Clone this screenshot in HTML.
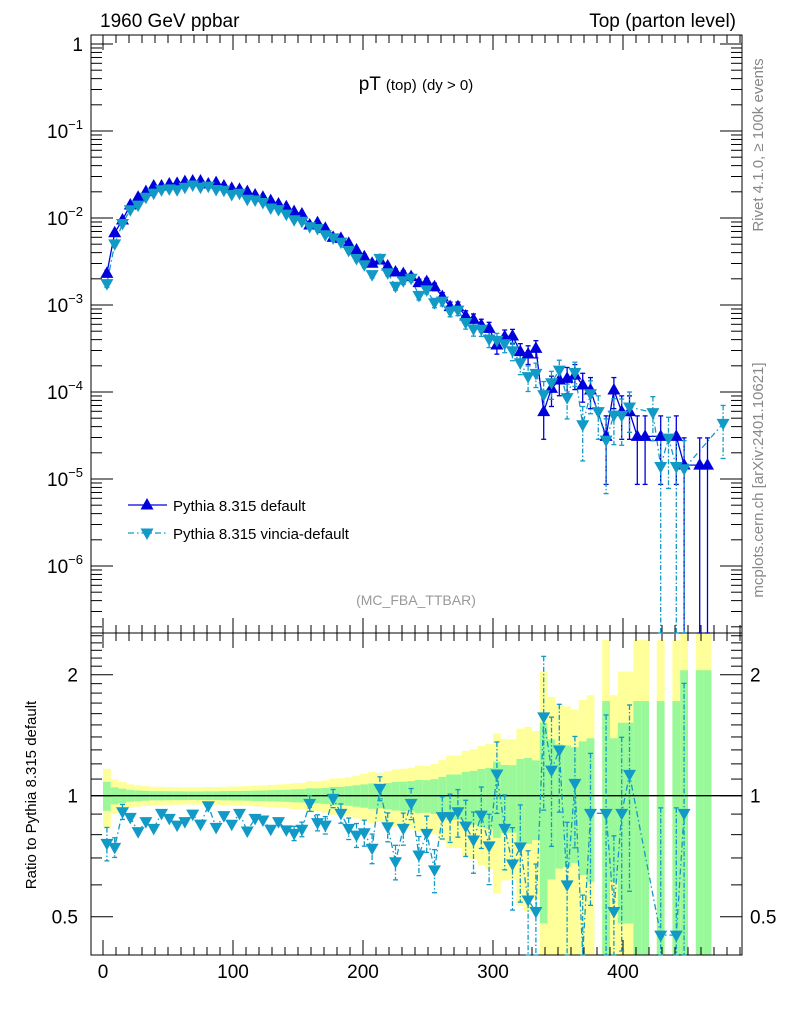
<!DOCTYPE html>
<html><head><meta charset="utf-8"><style>
html,body{margin:0;padding:0;background:#fff;}
svg{display:block;font-family:"Liberation Sans",Arial,sans-serif;}
</style></head><body>
<svg id="chart" width="786" height="1024" viewBox="0 0 786 1024" xmlns="http://www.w3.org/2000/svg">
<g id="bands"></g>
<g id="axes"></g>
<g id="series"></g>
<text x="100" y="27" font-size="19">1960 GeV ppbar</text>
<text x="736" y="27" font-size="19" text-anchor="end">Top (parton level)</text>
<text x="416" y="90" font-size="19" text-anchor="middle">pT <tspan font-size="15">(top)</tspan> <tspan font-size="15">(dy &gt; 0)</tspan></text>
<text x="416" y="605" font-size="14" fill="#999" text-anchor="middle">(MC_FBA_TTBAR)</text>
<text transform="translate(763,145) rotate(-90)" font-size="15" fill="#888" text-anchor="middle">Rivet 4.1.0, ≥ 100k events</text>
<text transform="translate(763,480) rotate(-90)" font-size="15" fill="#888" text-anchor="middle">mcplots.cern.ch [arXiv:2401.10621]</text>
<text transform="translate(36,795) rotate(-90)" font-size="15" text-anchor="middle">Ratio to Pythia 8.315 default</text>
<g>
  <g>
    <line x1="128" y1="505" x2="167" y2="505" stroke="#0000dd" stroke-width="1.3"/>
    <polygon points="147,498 140.5,509.5 153.5,509.5" fill="#0000dd"/>
    <text x="173" y="511" font-size="15">Pythia 8.315 default</text>
  </g>
  <g>
    <line x1="128" y1="533" x2="167" y2="533" stroke="#119ac6" stroke-width="1.3" stroke-dasharray="6,3,1.5,3"/>
    <polygon points="147,540 140.5,528.5 153.5,528.5" fill="#119ac6"/>
    <text x="173" y="539" font-size="15">Pythia 8.315 vincia-default</text>
  </g>
</g>
</svg>
<script>
// ---- data (bin width 6 GeV, centers 3,9,...) ----
const binCenters = Array.from({length:80},(_, k)=>3+6*k);
// log10 of Pythia default dsigma/dpT (null = empty bin)
const defaultLog = [-2.636,-2.169,-2.023,-1.851,-1.762,-1.697,-1.632,-1.632,-1.609,-1.602,
 -1.582,-1.575,-1.575,-1.609,-1.594,-1.632,-1.659,-1.671,-1.697,-1.736,
 -1.762,-1.801,-1.839,-1.870,-1.927,-1.954,-2.080,-2.054,-2.119,-2.222,
 -2.234,-2.291,-2.368,-2.445,-2.520,-2.483,-2.552,-2.620,-2.640,-2.674,
 -2.743,-2.732,-2.790,-2.904,-3.019,-3.019,-3.126,-3.165,-3.230,-3.268,
 -3.460,-3.364,-3.356,-3.536,-3.563,-3.498,-4.226,-3.958,-3.862,-3.843,
 -3.805,-3.920,-3.977,null,-4.510,-3.977,-4.226,-4.226,-4.510,-4.510,
 null,-4.510,null,-4.510,-4.839,null,-4.840,-4.840,null,null];
// vincia / default ratio (null = not shown)
const vinciaRatio = [0.761,0.744,0.912,0.883,0.814,0.862,0.829,0.904,0.878,0.845,
 0.862,0.900,0.850,0.944,0.834,0.892,0.849,0.904,0.817,0.878,
 0.870,0.825,0.862,0.822,0.806,0.825,0.957,0.857,0.845,0.985,
 0.904,0.829,0.798,0.809,0.740,1.043,0.837,0.685,0.829,0.957,
 0.712,0.806,0.654,0.887,0.887,0.912,0.840,0.776,0.895,0.750,
 1.132,0.829,0.676,0.746,0.550,0.515,1.571,1.158,1.299,0.600,
 1.073,0.350,0.904,null,0.904,0.515,0.904,1.130,null,null,
 null,0.450,null,0.450,0.904,null,null,null,null,null];
// vincia bins where default is empty (log10 values)
const vinciaOnlyLog = {63:-4.226, 70:-4.237, 72:-4.530, 79:-4.360};
const xTicks = [0,100,200,300,400];
const yDecades = [0,-1,-2,-3,-4,-5,-6];
const ratioTicks = [0.5,1,2];

// ---- geometry ----
const L=91,R=742,T=35,MB=633,RB=955;
const X=u=>103+1.3*u;
const Y=v=>44-87*Math.log10(v);
const RY=r=>795.7-121*Math.log2(r);
const NS="http://www.w3.org/2000/svg";
function mk(tag,attrs,parent){const e=document.createElementNS(NS,tag);for(const k in attrs)e.setAttribute(k,attrs[k]);parent.appendChild(e);return e;}
const gB=document.getElementById('bands'),gA=document.getElementById('axes'),gS=document.getElementById('series');
const relErr=v=>0.004/Math.sqrt(v);

// ---- bands in ratio ----
binCenters.forEach((c,k)=>{
  if(defaultLog[k]===null)return;
  const v=Math.pow(10,defaultLog[k]),e=relErr(v);
  const x0=X(c-3),x1=X(c+3);
  [[2,'#ffff99','band-2sigma'],[1,'#99f899','band-1sigma']].forEach(([m,col,nm])=>{
    const hi=RY(1+m*e);const lo=(1-m*e)>0.01?RY(1-m*e):RB;
    const top=Math.max(MB,hi),bot=Math.min(RB,lo);
    const r=mk('rect',{x:x0,y:top,width:x1-x0,height:bot-top,fill:col},gB);
    
    
  });
});

// ---- axes ----
mk('rect',{x:L,y:T,width:R-L,height:MB-T,fill:'none',stroke:'#000','stroke-width':1},gA);
mk('rect',{x:L,y:MB,width:R-L,height:RB-MB,fill:'none',stroke:'#000','stroke-width':1},gA);
mk('line',{x1:L,y1:RY(1),x2:R,y2:RY(1),stroke:'#000','stroke-width':1.3},gA);
for(let u=0;u<=490;u+=10){
  const x=X(u),maj=u%100===0,len=maj?15:8;
  [[MB,-1],[T,1],[RB,-1],[MB,1]].forEach(([y0,d])=>mk('line',{x1:x,y1:y0,x2:x,y2:y0+d*len,stroke:'#000'},gA));
}
xTicks.forEach(u=>{const t=mk('text',{x:X(u),y:978,'font-size':19,'text-anchor':'middle'},gA);t.textContent=u;
  });
for(let d=1;d>=-7;d--){
  for(let m=1;m<10;m++){
    const v=m*Math.pow(10,d),y=Y(v);if(y<T||y>MB)continue;
    const len=m===1?22:11;
    mk('line',{x1:L,y1:y,x2:L+len,y2:y,stroke:'#000'},gA);
    mk('line',{x1:R,y1:y,x2:R-len,y2:y,stroke:'#000'},gA);
  }
}
yDecades.forEach(d=>{
  const t=mk('text',{x:83,y:Y(Math.pow(10,d))+7,'font-size':19,'text-anchor':'end'},gA);
  
  if(d===0)t.textContent='1';else{t.textContent='10';const s=mk('tspan',{dy:-9,'font-size':13},t);s.textContent=String(d).replace('-','−');}
});
for(let r=0.4;r<2.55;r+=0.1){
  const y=RY(r);if(y<MB||y>RB)continue;
  const maj=[0.5,1,2].some(q=>Math.abs(q-r)<1e-6),len=maj?22:11;
  mk('line',{x1:L,y1:y,x2:L+len,y2:y,stroke:'#000'},gA);
  mk('line',{x1:R,y1:y,x2:R-len,y2:y,stroke:'#000'},gA);
}
ratioTicks.forEach(r=>{
  const a=mk('text',{x:78,y:RY(r)+7,'font-size':19,'text-anchor':'end'},gA);a.textContent=r;
  
  const b=mk('text',{x:750,y:RY(r)+7,'font-size':19},gA);b.textContent=r;
  
});

// ---- series ----
const BLUE='#0000dd',CYAN='#119ac6';
function tri(x,y,up,col,nm){
  const p=up?`${x},${y-7} ${x-6.5},${y+4.5} ${x+6.5},${y+4.5}`:`${x},${y+7} ${x-6.5},${y-4.5} ${x+6.5},${y-4.5}`;
  const e=mk('polygon',{points:p,fill:col},gS);
  
  
}
function errbar(x,y1,y2,col,dash){
  const a={x1:x,y1:y1,x2:x,y2:y2,stroke:col,'stroke-width':1.3};if(dash)a['stroke-dasharray']=dash;
  mk('line',a,gS);
  mk('line',{x1:x-2.5,y1:y1,x2:x+2.5,y2:y1,stroke:col,'stroke-width':1.3},gS);
  mk('line',{x1:x-2.5,y1:y2,x2:x+2.5,y2:y2,stroke:col,'stroke-width':1.3},gS);
}
const defPts=[],vinPts=[],ratPts=[];
binCenters.forEach((c,k)=>{
  if(defaultLog[k]!==null){defPts.push([X(c),Math.pow(10,defaultLog[k])]);}
  let vv=null;
  if(defaultLog[k]!==null&&vinciaRatio[k]!==null)vv=Math.pow(10,defaultLog[k])*vinciaRatio[k];
  else if(vinciaOnlyLog[k]!==undefined)vv=Math.pow(10,vinciaOnlyLog[k]);
  if(vv!==null)vinPts.push([X(c),vv]);
  if(defaultLog[k]!==null&&vinciaRatio[k]!==null)ratPts.push([X(c),vinciaRatio[k],relErr(Math.pow(10,defaultLog[k])*vinciaRatio[k])]);
});
function drawLine(pts,yf,col,dash,nm,clip){
  const d=pts.map((p,i)=>(i?'L':'M')+p[0].toFixed(1)+','+clip(yf(p[1])).toFixed(1)).join(' ');
  const a={d:d,fill:'none',stroke:col,'stroke-width':1.3};if(dash)a['stroke-dasharray']=dash;
  const e=mk('path',a,gS);
  
  
}
const clampM=y=>Math.min(MB,y);
drawLine(defPts,Y,BLUE,null,'default-line',clampM);
drawLine(vinPts,Y,CYAN,'6,3,1.5,3','vincia-line',clampM);
defPts.forEach(([x,v])=>{const e=relErr(v);if(e>0.04)errbar(x,Y(v*(1+e)),e<1?Math.min(MB,Y(v*(1-e))):MB,BLUE,null);});
vinPts.forEach(([x,v])=>{const e=relErr(v);if(e>0.04)errbar(x,Y(v*(1+e)),e<1?Math.min(MB,Y(v*(1-e))):MB,CYAN,'5,2,1.5,2');});
defPts.forEach(([x,v])=>tri(x,Y(v),true,BLUE,'default-point'));
vinPts.forEach(([x,v])=>tri(x,Y(v),false,CYAN,'vincia-point'));
const clipR=y=>Math.max(MB,Math.min(RB,y));
drawLine(ratPts,RY,CYAN,'6,3,1.5,3','vincia-ratio-line',clipR);
ratPts.forEach(([x,r,e])=>{const hi=clipR(RY(r*(1+e)));const lo=(r*(1-e))>0.05?clipR(RY(r*(1-e))):RB;if(e>0.04)errbar(x,hi,lo,CYAN,'5,2,1.5,2');});
ratPts.forEach(([x,r])=>{const y=RY(r);if(y>MB-4&&y<RB+4)tri(x,y,false,CYAN,'vincia-ratio-point');});
</script>
</body></html>
